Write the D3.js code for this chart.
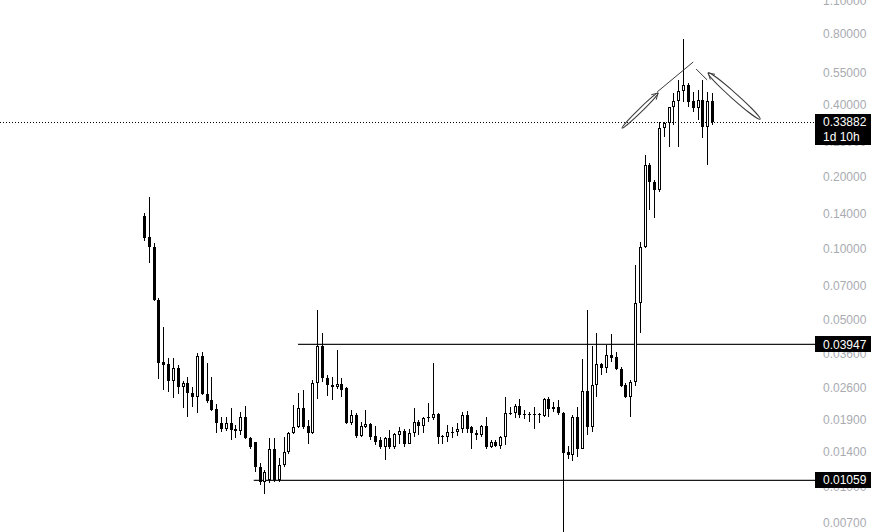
<!DOCTYPE html>
<html lang="en">
<head>
<meta charset="UTF-8">
<title>Candles</title>
<script src="https://d3js.org/d3.v7.min.js"></script>
<style>
  body { margin: 0; background: #ffffff; }
  svg { display: block; font-family: "Liberation Sans", Arial, sans-serif; }
</style>
</head>
<body>
<div id="chart"></div>
<script>
// daily candles (log price scale)
const opens = [.137,.1115,.1012,.0606,.0332,.0326,.0277,.0313,.0262,.0272,.0247,.0237,.0353,.0244,.0230,.0211,.0185,.0174,.0185,.0174,
  .0170,.0195,.0159,.0153,.0121,.0104,.0106,.0144,.0106,.0123,.0139,.0167,.0177,.0213,.0179,.0167,.0272,.0389,.0285,.0267,
  .0262,.0270,.0259,.0185,.0199,.0162,.0177,.0183,.0162,.0156,.0146,.0159,.0146,.0164,.0170,.0151,.0167,.0186,.0179,.0194,
  .0194,.0201,.0162,.0161,.0169,.0169,.0174,.0199,.0177,.0167,.0164,.0179,.0146,.0154,.0147,.0161,.0203,.0203,.0217,.0201,
  .0201,.0201,.0201,.0197,.0232,.0211,.0215,.0203,.0139,.0135,.0195,.0144,.0252,.0177,.0267,.0326,.0313,.0356,.0350,.0311,
  .0267,.0237,.0275,.0589,.1013,.2238,.1902,.176,.320,.336,.3928,.4159,.4585,.4857,.4159,.389,.420,.3232,.4159];
const highs = [.141,.164,.1053,.0618,.0467,.0346,.0346,.0323,.0277,.0288,.0262,.0363,.0367,.0329,.0288,.0221,.0195,.0195,.0213,.0181,
  .0205,.0217,.0161,.0154,.0125,.0117,.0159,.0159,.0131,.0161,.0169,.0219,.0247,.0254,.0190,.0280,.0550,.0441,.0293,.0288,
  .0374,.0285,.0262,.0209,.0203,.0186,.0209,.0184,.0179,.0161,.0161,.0172,.0167,.0177,.0174,.0174,.0213,.0190,.0195,.0223,
  .0329,.0203,.0164,.0181,.0177,.0185,.0205,.0207,.0179,.0172,.0181,.0195,.0156,.0156,.0162,.0237,.0215,.0221,.0232,.0209,
  .0205,.0215,.0203,.0235,.0237,.0226,.0230,.0205,.0147,.0199,.0215,.0342,.0550,.0389,.0441,.0329,.0392,.0437,.0367,.0317,
  .0272,.0280,.0850,.1063,.2467,.2282,.194,.339,.339,.3928,.4496,.510,.7585,.4953,.454,.463,.510,.454,.4496];
const lows = [.1073,.0867,.0603,.0282,.0254,.0249,.0235,.0244,.0213,.0195,.0215,.0203,.0242,.0223,.0207,.0167,.0169,.0170,.0156,.0159,
  .0164,.0158,.0143,.0115,.0101,.0093,.0103,.0104,.0104,.0120,.0137,.0166,.0176,.0174,.0150,.0166,.0232,.0275,.0240,.0230,
  .0256,.0237,.0183,.0181,.0159,.0161,.0176,.0156,.0149,.0143,.0129,.0143,.0143,.0151,.0146,.0150,.0161,.0164,.0167,.0186,
  .0190,.0151,.0151,.0153,.0159,.0162,.0167,.0167,.0143,.0156,.0161,.0144,.0145,.0146,.0144,.0149,.0199,.0194,.0194,.0192,
  .0186,.0174,.0185,.0195,.0195,.0205,.0199,.0060,.0130,.0128,.0133,.0143,.0164,.0169,.0237,.0293,.0299,.0332,.0308,.0262,
  .0235,.0195,.0264,.0441,.1005,.145,.1341,.1726,.2933,.2662,.3295,.2662,.4118,.3928,.3741,.346,.2904,.2238,.3295];
const closes = [.110,.1012,.0606,.0329,.0323,.0277,.0313,.0262,.0272,.0247,.0237,.0353,.0244,.0228,.0209,.0185,.0174,.0185,.0172,.0170,
  .0195,.0159,.0146,.0120,.0104,.0115,.0144,.0106,.0123,.0139,.0167,.0177,.0213,.0177,.0167,.0272,.0389,.0285,.0267,.0262,
  .0270,.0254,.0185,.0199,.0162,.0179,.0183,.0161,.0154,.0146,.0159,.0146,.0166,.0170,.0151,.0167,.0186,.0179,.0194,.0196,
  .0201,.0161,.0161,.0169,.0169,.0174,.0199,.0174,.0167,.0164,.0179,.0146,.0154,.0147,.0161,.0203,.0203,.0217,.0199,.0201,
  .0201,.0201,.0201,.0232,.0211,.0215,.0203,.0138,.0135,.0195,.0144,.0252,.0177,.0267,.0326,.0313,.0356,.0346,.0311,.0264,
  .0237,.0275,.0589,.1013,.2238,.1902,.176,.320,.336,.3928,.4159,.4585,.4857,.4118,.389,.420,.3232,.4159,.33882];

const tickValues = [1.1, 0.8, 0.55, 0.4, 0.28, 0.2, 0.14, 0.1, 0.07, 0.05, 0.036, 0.026, 0.019, 0.014, 0.01, 0.007];

// drawn horizontal levels: price and the bar where the line starts
const levelPrices = [0.03947, 0.01059];
const levelStart = [32, 22.8];

const lastPrice = 0.33882;
const countdown = "1d 10h";

// hand drawn marks, in [bar, price]
const peakLeft = [[106.6, 0.454], [114.1, 0.607]];
const peakRight = [[114.7, 0.567], [117.0, 0.510]];
const arrowUp = [[99.3, 0.320], [106.8, 0.4496]];     // tail, head
const arrowBack = [[128.0, 0.349], [117.2, 0.546]];   // tail, head

const width = 878, height = 532, axisX = 815;

const svg = d3.select('#chart').append('svg')
  .attr('width', width).attr('height', height);

const x = d3.scaleLinear().domain([0, opens.length - 1]).range([144, 712]);
const y = d3.scaleLog().domain([0.00642, 1.106]).range([height, 0]);

const candles = opens.map((o, i) => ({ i, o, h: highs[i], l: lows[i], c: closes[i] }));

// price axis
const axis = svg.append('g')
  .attr('transform', `translate(${axisX},0)`)
  .call(d3.axisRight(y).tickValues(tickValues).tickFormat(d3.format('.5f')).tickSize(0).tickPadding(8));
axis.select('.domain').remove();
axis.selectAll('text').attr('fill', '#a9abb1').style('font-size', '12px')
  .style('font-family', '"Liberation Sans", Arial, sans-serif');

// last price dotted line
const ly = Math.round(y(lastPrice)) + 0.5;
svg.append('line')
  .attr('x1', 0).attr('x2', axisX).attr('y1', ly).attr('y2', ly)
  .attr('stroke', '#000').attr('stroke-width', 1).attr('stroke-dasharray', '1,2');

// horizontal levels
levelPrices.forEach((p, k) => {
  svg.append('line')
    .attr('x1', x(levelStart[k])).attr('x2', axisX)
    .attr('y1', y(p)).attr('y2', y(p))
    .attr('stroke', '#1a1a1a').attr('stroke-width', 1.3);
});

// candles
const g = svg.append('g');
candles.forEach(d => {
  const cx = Math.round(x(d.i)) + 0.5;
  g.append('line')
    .attr('x1', cx).attr('x2', cx)
    .attr('y1', Math.round(y(d.h))).attr('y2', Math.round(y(d.l)))
    .attr('stroke', '#000').attr('stroke-width', 1);
  const top = Math.round(y(Math.max(d.o, d.c)));
  const bot = Math.round(y(Math.min(d.o, d.c)));
  const up = d.c >= d.o;
  if (!up || bot - top < 3) {
    g.append('rect')
      .attr('x', cx - 1.5).attr('y', top).attr('width', 3)
      .attr('height', Math.max(1, bot - top))
      .attr('fill', '#000');
  } else {
    g.append('rect')
      .attr('x', cx - 1).attr('y', top + 0.5).attr('width', 2)
      .attr('height', bot - top - 1)
      .attr('fill', '#fff').attr('stroke', '#000').attr('stroke-width', 1);
  }
});

// hand drawn annotations
const ink = svg.append('g').attr('fill', 'none').attr('stroke', '#3a3a3a').attr('stroke-width', 1);
const px = p => [x(p[0]), y(p[1])];
const lineGen = d3.line();
[peakLeft, peakRight].forEach(seg => ink.append('path').attr('d', lineGen(seg.map(px))));

function loopArrow(seg, halfW) {
  const [t, h] = seg.map(px);
  const dx = h[0] - t[0], dy = h[1] - t[1];
  const len = Math.hypot(dx, dy);
  const ang = Math.atan2(dy, dx) * 180 / Math.PI;
  ink.append('ellipse')
    .attr('cx', (t[0] + h[0]) / 2).attr('cy', (t[1] + h[1]) / 2)
    .attr('rx', len / 2).attr('ry', halfW)
    .attr('transform', `rotate(${ang},${(t[0] + h[0]) / 2},${(t[1] + h[1]) / 2})`);
  // arrow head at the head end
  const ux = -dx / len, uy = -dy / len, a = Math.PI / 6, L = 7;
  const arm = s => [h[0] + L * (ux * Math.cos(s * a) - uy * Math.sin(s * a)),
                    h[1] + L * (ux * Math.sin(s * a) + uy * Math.cos(s * a))];
  ink.append('path').attr('d', lineGen([arm(1), h, arm(-1)]));
}
loopArrow(arrowUp, 1.8);
loopArrow(arrowBack, 3);

// price labels on the axis
function tag(p, lines) {
  const cy = y(p);
  const hgt = lines.length === 1 ? 16 : 31;
  const top = lines.length === 1 ? cy - 8 : cy - 8;
  svg.append('rect').attr('x', axisX).attr('y', Math.round(top))
    .attr('width', 56).attr('height', hgt).attr('fill', '#000');
  lines.forEach((t, k) => {
    svg.append('text').attr('x', axisX + 8).attr('y', cy + k * 15)
      .attr('dy', '0.35em').attr('fill', '#fff').style('font-size', '12px')
      .text(t);
  });
}
tag(lastPrice, [d3.format('.5f')(lastPrice), countdown]);
levelPrices.forEach(p => tag(p, [d3.format('.5f')(p)]));
</script>
</body>
</html>
